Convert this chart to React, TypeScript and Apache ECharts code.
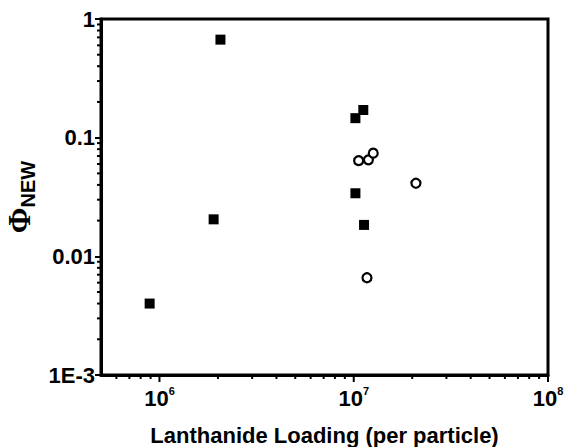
import React, { useEffect, useRef } from "react";
import * as echarts from "echarts";

const squaresX = [8.9e5, 1.9e6, 2.06e6, 1.02e7, 1.02e7, 1.12e7, 1.13e7];
const squaresY = [0.004, 0.0205, 0.67, 0.146, 0.034, 0.171, 0.0184];
const circlesX = [1.06e7, 1.19e7, 1.26e7, 2.09e7, 1.17e7];
const circlesY = [0.064, 0.065, 0.074, 0.0413, 0.0066];

const xMin = 5e5;
const xMax = 1e8;
const yMin = 1e-3;
const yMax = 1;
const xMajorTicks = [1e6, 1e7, 1e8];
const xTickExponents = ["6", "7", "8"];
const yMajorTicks = [1e-3, 1e-2, 1e-1, 1];
const yTickLabels = ["1E-3", "0.01", "0.1", "1"];

const xMinorTicks: number[] = [];
for (const d of [1e5, 1e6, 1e7]) {
  for (let k = 2; k <= 9; k++) {
    const v = k * d;
    if (v > xMin && v < xMax) xMinorTicks.push(v);
  }
}
const yMinorTicks: number[] = [];
for (const d of [1e-3, 1e-2, 1e-1]) {
  for (let k = 2; k <= 9; k++) yMinorTicks.push(k * d);
}

const FONT = "'Liberation Sans', Arial, sans-serif";

function closeTo(a: number, b: number) {
  return Math.abs(Math.log10(a) - Math.log10(b)) < 1e-6;
}

export default function App() {
  const ref = useRef<HTMLDivElement>(null);
  useEffect(() => {
    if (!ref.current) return;
    const chart = echarts.init(ref.current, null, { renderer: "svg" });
    const tickSeries = (data: number[][], dx: number, dy: number): any => ({
      type: "custom",
      silent: true,
      clip: false,
      z: 5,
      renderItem: (params: any, api: any) => {
        const p = api.coord([api.value(0), api.value(1)]);
        return {
          type: "line",
          shape: { x1: p[0], y1: p[1], x2: p[0] + dx, y2: p[1] + dy },
          style: { stroke: "#000", lineWidth: 2 },
        };
      },
      data,
    });
    chart.setOption({
      animation: false,
      backgroundColor: "#fff",
      grid: {
        left: 101,
        right: 16,
        top: 19,
        bottom: 72,
        show: true,
        borderColor: "#000",
        borderWidth: 3,
        containLabel: false,
        outerBoundsMode: "none",
      },
      xAxis: {
        type: "log",
        logBase: 10,
        min: xMin,
        max: xMax,
        splitLine: { show: false },
        axisLine: { show: true, lineStyle: { color: "#000", width: 3 } },
        axisTick: { show: false },
        axisLabel: {
          margin: 10,
          formatter: (v: number) => {
            const i = xMajorTicks.findIndex((t) => closeTo(t, v));
            if (i < 0) return "";
            return "{b|10}{s|" + xTickExponents[i] + "}";
          },
          rich: {
            b: {
              fontFamily: FONT,
              fontWeight: "bold",
              fontSize: 22,
              color: "#000",
              verticalAlign: "bottom",
              lineHeight: 24,
            },
            s: {
              fontFamily: FONT,
              fontWeight: "bold",
              fontSize: 11,
              color: "#000",
              verticalAlign: "top",
              lineHeight: 24,
            },
          },
        },
        name: "Lanthanide Loading (per particle)",
        nameLocation: "middle",
        nameGap: 49,
        nameTextStyle: {
          fontFamily: FONT,
          fontWeight: "bold",
          fontSize: 22,
          color: "#000",
        },
      },
      yAxis: {
        type: "log",
        logBase: 10,
        min: yMin,
        max: yMax,
        splitLine: { show: false },
        axisLine: { show: true, lineStyle: { color: "#000", width: 3 } },
        axisTick: {
          show: true,
          inside: false,
          length: 6,
          lineStyle: { color: "#000", width: 2 },
        },
        axisLabel: {
          margin: 6,
          fontFamily: FONT,
          fontWeight: "bold",
          fontSize: 22,
          color: "#000",
          formatter: (v: number) => {
            const i = yMajorTicks.findIndex((t) => closeTo(t, v));
            return i < 0 ? "" : yTickLabels[i];
          },
        },
        name: "{phi|Φ}{sub|NEW}",
        nameLocation: "middle",
        nameRotate: 90,
        nameGap: 58,
        nameTextStyle: {
          rich: {
            phi: {
              fontFamily: "'Liberation Serif', 'Times New Roman', serif",
              fontWeight: "bold",
              fontSize: 31,
              color: "#000",
              verticalAlign: "top",
              lineHeight: 24,
            },
            sub: {
              fontFamily: FONT,
              fontWeight: "bold",
              fontSize: 20,
              color: "#000",
              verticalAlign: "bottom",
              lineHeight: 34,
            },
          },
        },
      },
      series: [
        {
          type: "scatter",
          symbol: "rect",
          symbolSize: 10,
          itemStyle: { color: "#000", opacity: 1 },
          data: squaresX.map((x, i) => [x, squaresY[i]]),
          z: 3,
        },
        {
          type: "scatter",
          symbol: "circle",
          symbolSize: 9,
          itemStyle: {
            color: "#fff",
            borderColor: "#000",
            borderWidth: 2.2,
            opacity: 1,
          },
          data: circlesX.map((x, i) => [x, circlesY[i]]),
          z: 4,
        },
        tickSeries(xMinorTicks.map((v) => [v, yMin]), 0, 4),
        tickSeries(xMajorTicks.map((v) => [v, yMin]), 0, 7),
        tickSeries(yMinorTicks.map((v) => [xMin, v]), -4, 0),
      ],
    });
    return () => chart.dispose();
  }, []);
  return (
    <div
      ref={ref}
      style={{ position: "fixed", left: 0, top: 0, width: 564, height: 447 }}
    />
  );
}
